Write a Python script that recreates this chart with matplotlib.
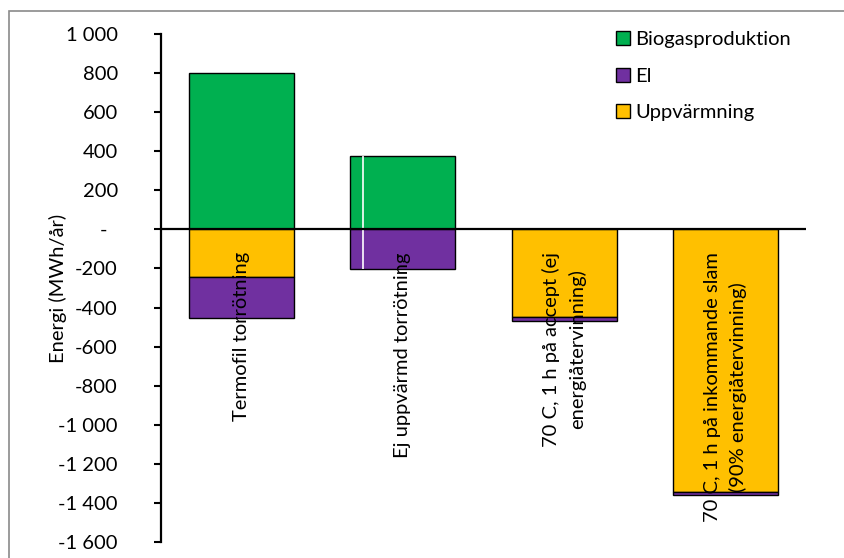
import numpy as np
import matplotlib.pyplot as plt
from matplotlib.patches import Patch, Rectangle
from matplotlib.ticker import FuncFormatter, MultipleLocator
import matplotlib.transforms as mtransforms

plt.rcParams['font.family'] = ['Lato', 'DejaVu Sans']
plt.rcParams['font.size'] = 14.5

# --- Data (MWh/år) ---
kategorier = [
    "Termofil torrötning",
    "Ej uppvärmd torrötning",
    "70 C, 1 h på accept (ej\nenergiåtervinning)",
    "70 C, 1 h på inkommande slam\n(90% energiåtervinning)",
]
biogas = [800, 377, 0, 0]
uppvarmning = [-245, 0, -447, -1346]
el = [-210, -204, -20, -14]

farg_biogas = "#00B050"
farg_el = "#7030A0"
farg_uppv = "#FFC000"

x = np.arange(len(kategorier))
bredd = 0.65

fig = plt.figure(figsize=(8.45, 5.58), dpi=100)
ax = fig.add_axes([161 / 845, 1 - 542 / 558, (806 - 161) / 845, (542 - 34) / 558])

# chart frame (only top/left visible)
fig.patches.append(Rectangle((9.5 / 845, -0.1), 1.2, 1 - 11.5 / 558 + 0.1,
                             transform=fig.transFigure, fill=False,
                             edgecolor="#8a8a8a", lw=1.2))

ax.bar(x, biogas, bredd, color=farg_biogas, edgecolor="black", lw=1, zorder=2)
ax.bar(x, uppvarmning, bredd, color=farg_uppv, edgecolor="black", lw=1, zorder=2)
ax.bar(x, el, bredd, bottom=uppvarmning, color=farg_el, edgecolor="black", lw=1, zorder=2)

# thin white streak through the second bar
y_lo = uppvarmning[1] + el[1]
ax.vlines(x[1] - bredd / 2 + 0.078, y_lo, biogas[1], color="white", lw=1.2, zorder=3)

ax.axhline(0, color="black", lw=1.6, zorder=4)

ax.set_xlim(-0.5, 3.5)
ax.set_ylim(-1600, 1000)
ax.yaxis.set_major_locator(MultipleLocator(200))


def fmt(v, pos):
    if abs(v) < 1e-9:
        return "-  "
    return f"{v:,.0f}".replace(",", " ")


ax.yaxis.set_major_formatter(FuncFormatter(fmt))
ax.tick_params(axis="y", direction="out", length=5, width=1.5, pad=26)
ax.set_xticks([])
for s in ["top", "right", "bottom"]:
    ax.spines[s].set_visible(False)
ax.spines["left"].set_linewidth(1.6)

ax.set_ylabel("Energi (MWh/år)")
ax.yaxis.set_label_coords((67 - 161) / 645, 0.5)

# category labels hanging below the zero line
off = mtransforms.offset_copy(ax.transData, fig=fig, x=0, y=-16.3, units="points")
for xi, lab in zip(x, kategorier):
    ax.text(xi, 0, lab, rotation=90, ha="center", va="top",
            multialignment="center", transform=off, zorder=5, linespacing=1.5)

handles = [Patch(facecolor=farg_biogas, edgecolor="black"),
           Patch(facecolor=farg_el, edgecolor="black"),
           Patch(facecolor=farg_uppv, edgecolor="black")]
ax.legend(handles, ["Biogasproduktion", "El", "Uppvärmning"],
          loc="upper left", bbox_to_anchor=(616 / 845, 1 - 31 / 558),
          bbox_transform=fig.transFigure, frameon=False,
          handlelength=0.7, handleheight=0.7, handletextpad=0.25,
          labelspacing=0.97, borderpad=0, borderaxespad=0)

fig.savefig("out.png", dpi=100)
